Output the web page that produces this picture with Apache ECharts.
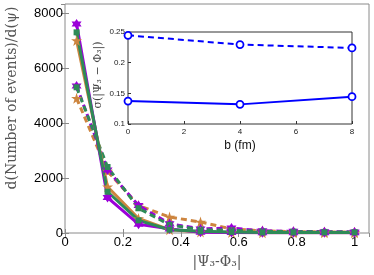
<!DOCTYPE html>
<html><head><meta charset="utf-8">
<script src="https://cdn.jsdelivr.net/npm/echarts@6/dist/echarts.min.js"></script>
<style>html,body{margin:0;padding:0;background:#fff}#c{width:374px;height:275px}</style>
</head><body><div id="c"></div>
<script>
// ---- data ----
const psiBins = [0.04, 0.147, 0.254, 0.361, 0.468, 0.575, 0.682, 0.789, 0.896, 1.0];
const solidPurple = [7600, 1290, 320, 150, 30, 20, 10, 10, 10, 10];
const solidOrange = [7000, 1680, 530, 120, 40, 20, 10, 10, 10, 10];
const solidGreen  = [7300, 1500, 460, 120, 60, 40, 20, 20, 20, 20];
const dashPurple  = [5350, 2290, 1000, 340, 150, 180, 80, 60, 50, 40];
const dashOrange  = [4900, 2250, 1000, 580, 400, 150, 80, 50, 40, 30];
const dashGreen   = [5300, 2400, 900, 300, 120, 100, 60, 50, 40, 30];
const mainXTicks = ['0', '0.2', '0.4', '0.6', '0.8', '1'];
const mainYTicks = ['0', '2000', '4000', '6000', '8000'];
const bValues = [0, 4, 8];
const sigmaDashed = [0.2446, 0.2295, 0.224];
const sigmaSolid  = [0.1374, 0.132, 0.1445];
const insetXTicks = ['0', '2', '4', '6', '8'];
const insetYTicks = ['0.1', '0.15', '0.2', '0.25'];

const PURPLE = '#9B00D9', ORANGE = '#CD853F', GREEN = '#2E8B57', BLUE = '#0000FF';
const HEX = 'path://M50 0 L64.43 25 L93.3 25 L78.87 50 L93.3 75 L64.43 75 L50 100 L35.57 75 L6.7 75 L21.13 50 L6.7 25 L35.57 25 Z';
const PENT = 'path://M50 0 L61.23 34.55 L97.55 34.55 L68.17 55.9 L79.39 90.45 L50 69.1 L20.61 90.45 L31.83 55.9 L2.45 34.55 L38.77 34.55 Z';

function pts(xs, ys) { return xs.map((v, i) => [v, ys[i]]); }
function mainSeries(vals, color, sym, size, dashed) {
  return {
    type: 'line', xAxisIndex: 0, yAxisIndex: 0, data: pts(psiBins, vals),
    symbol: sym, symbolSize: size, showSymbol: true,
    lineStyle: { color: color, width: 3, type: dashed ? [6, 4] : 'solid' },
    itemStyle: { color: color, borderWidth: 0 }, animation: false
  };
}
const chart = echarts.init(document.getElementById('c'), null, { renderer: 'canvas' });
const frame = '#8a8a8a';
const insetFrame = '#333';
chart.setOption({
  animation: false,
  grid: [
    { left: 65, right: 5, top: 4, bottom: 42, show: true, borderColor: frame, borderWidth: 1, backgroundColor: '#fff' },
    { left: 128, right: 22, top: 32, bottom: 151, show: true, borderColor: insetFrame, borderWidth: 1, backgroundColor: '#fff', z: 5 }
  ],
  xAxis: [
    { type: 'value', gridIndex: 0, min: 0, max: 1.05, interval: 0.2,
      axisLine: { show: false }, splitLine: { show: false },
      axisTick: { inside: true, length: 4, lineStyle: { color: frame } },
      axisLabel: { showMaxLabel: false, color: '#000', fontSize: 13, fontFamily: 'Liberation Sans', margin: 3,
        formatter: v => mainXTicks[Math.round(v / 0.2)] } },
    { type: 'value', gridIndex: 0, position: 'top', min: 0, max: 1.05, interval: 0.2,
      axisLine: { show: false }, splitLine: { show: false },
      axisTick: { inside: true, length: 4, lineStyle: { color: frame } }, axisLabel: { show: false } },
    { type: 'value', gridIndex: 1, min: 0, max: 8, interval: 2, z: 6,
      axisLine: { show: false }, splitLine: { show: false },
      axisTick: { inside: true, length: 3, lineStyle: { color: insetFrame } },
      axisLabel: { color: '#222', fontSize: 8, fontFamily: 'Liberation Sans', margin: 4,
        formatter: v => insetXTicks[Math.round(v / 2)] } }
  ],
  yAxis: [
    { type: 'value', gridIndex: 0, min: 0, max: 8330, interval: 2000,
      axisLine: { show: false }, splitLine: { show: false },
      axisTick: { inside: true, length: 4, lineStyle: { color: frame } },
      axisLabel: { showMaxLabel: false, color: '#000', fontSize: 13, fontFamily: 'Liberation Sans', margin: 2,
        formatter: v => mainYTicks[Math.round(v / 2000)] } },
    { type: 'value', gridIndex: 0, position: 'right', min: 0, max: 8330, interval: 2000,
      axisLine: { show: false }, splitLine: { show: false },
      axisTick: { inside: true, length: 4, lineStyle: { color: frame } }, axisLabel: { show: false } },
    { type: 'value', gridIndex: 1, min: 0.1, max: 0.25, interval: 0.05, z: 6,
      axisLine: { show: false }, splitLine: { show: false },
      axisTick: { inside: true, length: 3, lineStyle: { color: insetFrame } },
      axisLabel: { color: '#222', fontSize: 8, fontFamily: 'Liberation Sans', margin: 3,
        formatter: v => insetYTicks[Math.round((v - 0.1) / 0.05)] } }
  ],
  series: [
    mainSeries(dashOrange, ORANGE, PENT, 11, true),
    mainSeries(dashPurple, PURPLE, HEX, 10, true),
    mainSeries(dashGreen, GREEN, 'rect', 6, true),
    mainSeries(solidOrange, ORANGE, PENT, 11, false),
    mainSeries(solidPurple, PURPLE, HEX, 10, false),
    mainSeries(solidGreen, GREEN, 'rect', 6, false),
    { type: 'line', xAxisIndex: 2, yAxisIndex: 2, data: pts(bValues, sigmaDashed), z: 7,
      symbol: 'circle', symbolSize: 7, showSymbol: true,
      lineStyle: { color: BLUE, width: 2, type: [6, 4] },
      itemStyle: { color: '#fff', borderColor: BLUE, borderWidth: 1.8 } },
    { type: 'line', xAxisIndex: 2, yAxisIndex: 2, data: pts(bValues, sigmaSolid), z: 7,
      symbol: 'circle', symbolSize: 7, showSymbol: true,
      lineStyle: { color: BLUE, width: 2 },
      itemStyle: { color: '#fff', borderColor: BLUE, borderWidth: 1.8 } }
  ],
  graphic: [
    { type: 'text', x: 12, y: 98, rotation: Math.PI / 2, z: 10,
      style: { text: 'd(Number of events)/d(ψ)', font: '14px "DejaVu Serif"', fill: '#555', align: 'center', verticalAlign: 'middle' } },
    { type: 'text', x: 217, y: 262, z: 10,
      style: { text: '|Ψ₃-Φ₃|', font: '14px "DejaVu Serif"', fill: '#555', align: 'center', verticalAlign: 'middle' } },
    { type: 'text', x: 98, y: 75, rotation: Math.PI / 2, z: 10,
      style: { text: 'σ(|Ψ₃ − Φ₃|)', font: '11px "DejaVu Serif"', fill: '#444', align: 'center', verticalAlign: 'middle' } },
    { type: 'text', x: 240, y: 146, z: 10,
      style: { text: 'b (fm)', font: '12px "Liberation Sans"', fill: '#111', align: 'center', verticalAlign: 'middle' } }
  ]
});
</script></body></html>
